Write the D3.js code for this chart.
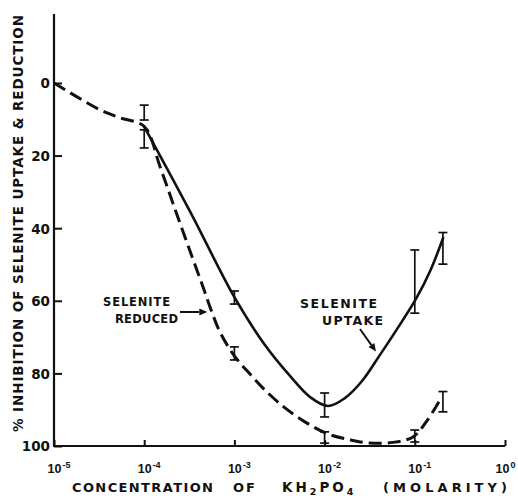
<!DOCTYPE html>
<html>
<head>
<meta charset="utf-8">
<script src="https://cdn.jsdelivr.net/npm/d3@7"></script>
<style>
  body { margin: 0; background: #fff; }
  svg { display: block; background: #fff; }
  text { font-family: "DejaVu Sans", "Liberation Sans", sans-serif; font-weight: bold; fill: #111; }
</style>
</head>
<body>
<svg id="chart" width="518" height="496"></svg>
<script>
// KH2PO4 concentration (M) vs % inhibition of selenite uptake
const uptakeConc   = [1e-4, 3.24e-4, 1e-3, 2.18e-3, 4.13e-3, 6.89e-3, 1.09e-2, 1.68e-2, 2.6e-2, 4.11e-2, 6.35e-2, 1.03e-1, 1.48e-1, 2.06e-1];
const uptakeValues = [12.0, 35.5, 59.0, 72.2, 80.7, 86.5, 89.0, 86.8, 82.1, 74.9, 67.8, 59.5, 51.8, 42.7];

// % inhibition of selenite reduction
const reducedConc   = [1e-5, 1.82e-5, 3.24e-5, 5.4e-5, 1e-4, 1.5e-4, 2.19e-4, 3.22e-4, 4.49e-4, 5.51e-4, 6.92e-4, 1e-3,
                       1.49e-3, 2.18e-3, 3.64e-3, 6.38e-3, 1.09e-2, 1.91e-2, 3.18e-2, 5.73e-2, 9.55e-2, 1.36e-1, 1.95e-1];
const reducedValues = [0, 3.9, 7.4, 9.6, 12.0, 23.1, 34.7, 46.3, 56.2, 62.5, 68.6, 75.2,
                       80.2, 84.6, 89.5, 93.7, 96.7, 98.3, 99.2, 99.0, 97.5, 93.1, 86.8];

// error bars (low / high) at the measured concentrations
const errConc     = [1e-4, 1e-3, 1e-2, 1e-1, 2.05e-1];
const uptakeLow   = [6.1, 57.3, 85.4, 46.0, 41.2];
const uptakeHigh  = [10.2, 60.9, 92.0, 63.4, 49.9];
const reducedLow  = [12.9, 72.7, 96.1, 95.6, 85.0];
const reducedHigh = [17.9, 76.3, 99.2, 98.9, 90.6];

const xTickExponents = [-5, -4, -3, -2, -1, 0];
const yTickValues = [0, 20, 40, 60, 80, 100];

const svg = d3.select("#chart");

const x = d3.scaleLog().domain([1e-5, 1]).range([54, 505]);
const y = d3.scaleLinear().domain([-19, 100]).range([14, 446]);

// axes lines
svg.append("line").attr("x1", x(1e-5)).attr("x2", x(1e-5)).attr("y1", y(-19)).attr("y2", y(100))
  .attr("stroke", "#111").attr("stroke-width", 2.2);
svg.append("line").attr("x1", x(1e-5) - 1).attr("x2", x(1)).attr("y1", y(100)).attr("y2", y(100))
  .attr("stroke", "#111").attr("stroke-width", 2.2);

// y axis ticks (inward) and labels
const yAxis = d3.axisLeft(y).tickValues(yTickValues).tickSizeInner(-8).tickSizeOuter(0).tickPadding(4);
const gy = svg.append("g").attr("transform", `translate(${x(1e-5)},0)`).call(yAxis);
gy.select(".domain").remove();
gy.selectAll(".tick line").attr("stroke", "#111").attr("stroke-width", 2);
gy.selectAll(".tick text").attr("font-size", 13.5).attr("font-family", null).attr("fill", "#111")
  .attr("dy", "0.36em");

// x axis ticks (inward) and power-of-ten labels
const xTickValues = xTickExponents.map(e => Math.pow(10, e));
const xAxis = d3.axisBottom(x).tickValues(xTickValues).tickSizeInner(-6).tickSizeOuter(0);
const gx = svg.append("g").attr("transform", `translate(0,${y(100)})`).call(xAxis);
gx.select(".domain").remove();
gx.selectAll(".tick line").attr("stroke", "#111").attr("stroke-width", 2);
gx.selectAll(".tick text").each(function(d, i) {
  const t = d3.select(this);
  const e = xTickExponents[i];
  t.text(null).attr("font-family", null).style("font-family", "'Liberation Sans', Arial, sans-serif")
    .attr("fill", "#111")
    .attr("text-anchor", "start").attr("x", e === 0 ? -10 : -7).attr("y", 27).attr("dy", null)
    .attr("font-size", 12.5);
  t.append("tspan").text("10");
  t.append("tspan").attr("dy", -5).attr("dx", 1).attr("font-size", 9)
    .text(e < 0 ? "-" + Math.abs(e) : String(e));
});

// axis titles
const xTitle = svg.append("g").attr("font-size", 13);
xTitle.append("text").attr("x", 72).attr("y", 492).attr("textLength", 141).attr("lengthAdjust", "spacing").text("CONCENTRATION");
xTitle.append("text").attr("x", 233).attr("y", 492).attr("textLength", 22).attr("lengthAdjust", "spacing").text("OF");
const kh = xTitle.append("text").attr("x", 282).attr("y", 492).attr("letter-spacing", 3).attr("font-size", 13.5);
kh.append("tspan").text("KH");
kh.append("tspan").attr("font-size", 9.5).attr("dy", 3).text("2");
kh.append("tspan").attr("dy", -3).text("PO");
kh.append("tspan").attr("font-size", 9.5).attr("dy", 3).text("4");
xTitle.append("text").attr("x", 383).attr("y", 492).attr("textLength", 124).attr("lengthAdjust", "spacing").text("(MOLARITY)");

svg.append("text")
  .attr("transform", "translate(23,223.5) rotate(-90)")
  .attr("text-anchor", "middle").attr("font-size", 13.5)
  .attr("textLength", 417).attr("lengthAdjust", "spacing")
  .text("% INHIBITION OF SELENITE UPTAKE & REDUCTION");

// curves
const line = d3.line().x(d => x(d[0])).y(d => y(d[1])).curve(d3.curveCatmullRom.alpha(0.5));
const uptake = uptakeConc.map((c, i) => [c, uptakeValues[i]]);
const reduced = reducedConc.map((c, i) => [c, reducedValues[i]]);

svg.append("path").datum(reduced).attr("d", line)
  .attr("fill", "none").attr("stroke", "#111").attr("stroke-width", 3)
  .attr("stroke-dasharray", "13,6");
svg.append("path").datum(uptake).attr("d", line)
  .attr("fill", "none").attr("stroke", "#111").attr("stroke-width", 2.6)
  .attr("stroke-linecap", "round");

// error bars
function errorBars(lows, highs) {
  const g = svg.append("g").attr("stroke", "#111").attr("stroke-width", 1.7).attr("fill", "none");
  errConc.forEach((c, i) => {
    const cx = x(c), y0 = y(lows[i]), y1 = y(highs[i]);
    g.append("line").attr("x1", cx).attr("x2", cx).attr("y1", y0).attr("y2", y1);
    g.append("line").attr("x1", cx - 4.5).attr("x2", cx + 4.5).attr("y1", y0).attr("y2", y0);
    g.append("line").attr("x1", cx - 4.5).attr("x2", cx + 4.5).attr("y1", y1).attr("y2", y1);
  });
}
errorBars(uptakeLow, uptakeHigh);
errorBars(reducedLow, reducedHigh);

// annotations with arrows
function arrow(x1, y1, x2, y2) {
  const ang = Math.atan2(y2 - y1, x2 - x1), L = 8, W = 3.5;
  const bx = x2 - L * Math.cos(ang), by = y2 - L * Math.sin(ang);
  svg.append("line").attr("x1", x1).attr("y1", y1).attr("x2", bx).attr("y2", by)
    .attr("stroke", "#111").attr("stroke-width", 2);
  svg.append("path")
    .attr("d", `M${x2},${y2}L${bx - W * Math.sin(ang)},${by + W * Math.cos(ang)}L${bx + W * Math.sin(ang)},${by - W * Math.cos(ang)}Z`)
    .attr("fill", "#111");
}

const ann = svg.append("g").attr("font-size", 11.5).attr("text-anchor", "middle");
ann.append("text").attr("x", 136.5).attr("y", 306).attr("textLength", 67).attr("lengthAdjust", "spacing").text("SELENITE");
ann.append("text").attr("x", 146.5).attr("y", 323).attr("textLength", 63).attr("lengthAdjust", "spacing").text("REDUCED");
arrow(180, 312, x(Math.pow(10, -3.3)), 312);

const ann2 = svg.append("g").attr("font-size", 12.5).attr("text-anchor", "middle");
ann2.append("text").attr("x", 338.5).attr("y", 308).attr("textLength", 77).attr("lengthAdjust", "spacing").text("SELENITE");
ann2.append("text").attr("x", 352.5).attr("y", 325).attr("textLength", 61).attr("lengthAdjust", "spacing").text("UPTAKE");
arrow(360, 329, x(Math.pow(10, -1.43)), y(74));
</script>
</body>
</html>
